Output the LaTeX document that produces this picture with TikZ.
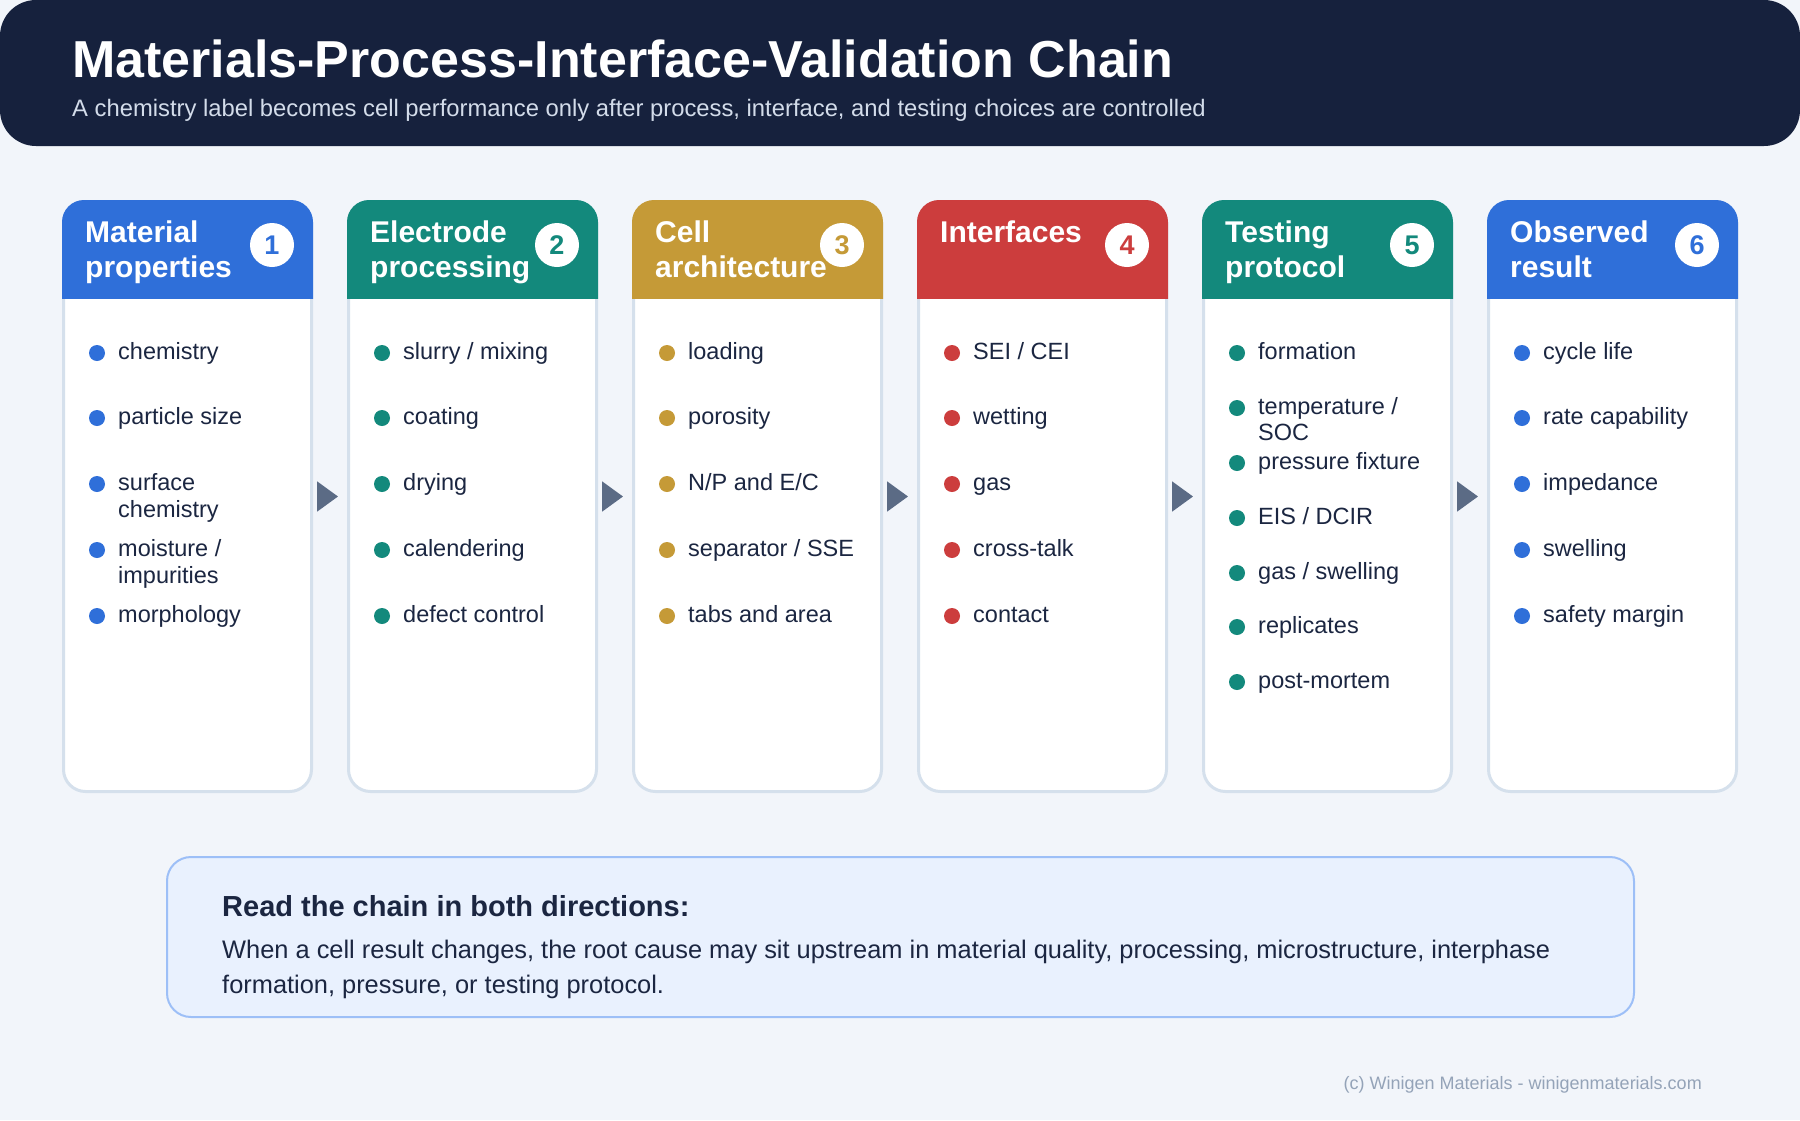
\documentclass[tikz,border=0pt]{standalone}
\usepackage{fontspec}
\setmainfont{Liberation Sans}
\usetikzlibrary{arrows.meta}
\definecolor{bg}{HTML}{F2F5FA}
\definecolor{hdr}{HTML}{16213D}
\definecolor{subc}{HTML}{D3DCEA}
\definecolor{cblue}{HTML}{2F6FD9}
\definecolor{cteal}{HTML}{13897C}
\definecolor{cgold}{HTML}{C59A37}
\definecolor{cred}{HTML}{CC3D3D}
\definecolor{txt}{HTML}{1B2641}
\definecolor{arrowc}{HTML}{5B6B85}
\definecolor{cardborder}{HTML}{D5E0EC}
\definecolor{notefill}{HTML}{E9F1FE}
\definecolor{noteborder}{HTML}{9DBFF7}
\definecolor{footc}{HTML}{94A3B8}
\tikzset{
  card/.style={draw=cardborder, line width=3pt, fill=white, rounded corners=22pt,
    minimum width=248pt, minimum height=590pt, inner sep=0pt},
  hd/.style={text=white, font=\fontsize{30}{33}\selectfont\bfseries, inner sep=0pt},
  numc/.style={circle, fill=white, minimum size=44pt, inner sep=0pt,
    font=\fontsize{27}{27}\selectfont\bfseries},
  it/.style={text=txt, font=\fontsize{23.5}{27}\selectfont, inner sep=0pt, anchor=base west},
  flow/.style={draw=arrowc, line width=2pt, -{Triangle[length=21pt,width=30pt]}},
}
\newcommand\mkcard[4]{%
  \pgfmathsetmacro\L{62+285*(#1-1)}
  \node[card] (c#1) at (\L+125.5,496.5) {};
  \begin{scope}
    \clip (\L,200) rectangle (\L+251,298);
    \fill[#2, rounded corners=22pt] (\L,200) rectangle (\L+251,360);
  \end{scope}
  \node[hd, anchor=base west] (h#1a) at (\L+23,242) {#3};
  \node[hd, anchor=base west] (h#1b) at (\L+23,277) {#4};
  \node[numc, text=#2] (n#1) at (\L+210,245) {#1};
}
\newcommand\itm[5]{%
  \pgfmathsetmacro\L{62+285*(#2-1)}
  \fill[#4] (\L+35,#3) circle[radius=8pt];
  \node[it] (#1) at (\L+56,#3+6) {#5};
}
\newcommand\itmb[4]{%
  \pgfmathsetmacro\L{62+285*(#2-1)}
  \node[it] (#1) at (\L+56,#3+6) {#4};
}
\begin{document}
\begin{tikzpicture}[x=1pt,y=-1pt]
\path[fill=bg] (0,0) rectangle (1800,1120);
\useasboundingbox (0,0) rectangle (1800,1120);
% header
\fill[hdr, rounded corners=36pt] (0,0) rectangle (1800,146);
\node[anchor=base west, inner sep=0pt, text=white, font=\fontsize{52}{60}\selectfont\bfseries]
  (title) at (72,77) {Materials-Process-Interface-Validation Chain};
\node[anchor=base west, inner sep=0pt, text=subc, font=\fontsize{23.8}{27}\selectfont]
  (subtitle) at (72,116) {A chemistry label becomes cell performance only after process, interface, and testing choices are controlled};
% cards
\mkcard{1}{cblue}{Material}{properties}
\mkcard{2}{cteal}{Electrode}{processing}
\mkcard{3}{cgold}{Cell}{architecture}
\mkcard{4}{cred}{Interfaces}{}
\mkcard{5}{cteal}{Testing}{protocol}
\mkcard{6}{cblue}{Observed}{result}
% items card 1
\itm{a1}{1}{353}{cblue}{chemistry}
\itm{a2}{1}{418}{cblue}{particle size}
\itm{a3}{1}{484}{cblue}{surface}
\itmb{a3b}{1}{511}{chemistry}
\itm{a4}{1}{550}{cblue}{moisture /}
\itmb{a4b}{1}{577}{impurities}
\itm{a5}{1}{616}{cblue}{morphology}
% card 2
\itm{b1}{2}{353}{cteal}{slurry / mixing}
\itm{b2}{2}{418}{cteal}{coating}
\itm{b3}{2}{484}{cteal}{drying}
\itm{b4}{2}{550}{cteal}{calendering}
\itm{b5}{2}{616}{cteal}{defect control}
% card 3
\itm{d1}{3}{353}{cgold}{loading}
\itm{d2}{3}{418}{cgold}{porosity}
\itm{d3}{3}{484}{cgold}{N/P and E/C}
\itm{d4}{3}{550}{cgold}{separator / SSE}
\itm{d5}{3}{616}{cgold}{tabs and area}
% card 4
\itm{e1}{4}{353}{cred}{SEI / CEI}
\itm{e2}{4}{418}{cred}{wetting}
\itm{e3}{4}{484}{cred}{gas}
\itm{e4}{4}{550}{cred}{cross-talk}
\itm{e5}{4}{616}{cred}{contact}
% card 5
\itm{f1}{5}{353}{cteal}{formation}
\itm{f2}{5}{408}{cteal}{temperature /}
\itmb{f2b}{5}{434}{SOC}
\itm{f3}{5}{463}{cteal}{pressure fixture}
\itm{f4}{5}{518}{cteal}{EIS / DCIR}
\itm{f5}{5}{573}{cteal}{gas / swelling}
\itm{f6}{5}{627}{cteal}{replicates}
\itm{f7}{5}{682}{cteal}{post-mortem}
% card 6
\itm{g1}{6}{353}{cblue}{cycle life}
\itm{g2}{6}{418}{cblue}{rate capability}
\itm{g3}{6}{484}{cblue}{impedance}
\itm{g4}{6}{550}{cblue}{swelling}
\itm{g5}{6}{616}{cblue}{safety margin}
% arrows
\foreach \i [evaluate=\i as \j using int(\i+1)] in {1,...,5}
  \draw[flow] ([xshift=4pt]c\i.east) -- ([xshift=-9pt]c\j.west);
% note box
\node[draw=noteborder, line width=2pt, fill=notefill, rounded corners=24pt,
  minimum width=1467pt, minimum height=160pt, inner sep=0pt] (note) at (900.5,937) {};
\node[anchor=base west, inner sep=0pt, text=txt, font=\fontsize{29}{32}\selectfont\bfseries]
  (notetitle) at (222,916) {Read the chain in both directions:};
\node[anchor=base west, inner sep=0pt, text=txt, font=\fontsize{25.4}{29}\selectfont]
  (note1) at (222,958) {When a cell result changes, the root cause may sit upstream in material quality, processing, microstructure, interphase};
\node[anchor=base west, inner sep=0pt, text=txt, font=\fontsize{25.4}{29}\selectfont]
  (note2) at (222,993) {formation, pressure, or testing protocol.};
% footer
\node[anchor=base east, inner sep=0pt, text=footc, font=\fontsize{18}{20}\selectfont]
  (footer) at (1702,1089) {(c) Winigen Materials - winigenmaterials.com};
\end{tikzpicture}
\end{document}
